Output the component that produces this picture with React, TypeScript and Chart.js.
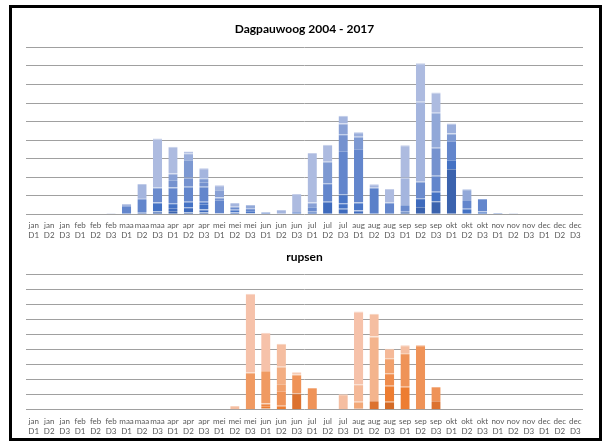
import React, { useEffect, useRef } from "react";
import { Chart, registerables } from "chart.js";

Chart.register(...registerables);

const categories: string[][] = [
  ["jan", "D1"], ["jan", "D2"], ["jan", "D3"],
  ["feb", "D1"], ["feb", "D2"], ["feb", "D3"],
  ["maa", "D1"], ["maa", "D2"], ["maa", "D3"],
  ["apr", "D1"], ["apr", "D2"], ["apr", "D3"],
  ["mei", "D1"], ["mei", "D2"], ["mei", "D3"],
  ["jun", "D1"], ["jun", "D2"], ["jun", "D3"],
  ["jul", "D1"], ["jul", "D2"], ["jul", "D3"],
  ["aug", "D1"], ["aug", "D2"], ["aug", "D3"],
  ["sep", "D1"], ["sep", "D2"], ["sep", "D3"],
  ["okt", "D1"], ["okt", "D2"], ["okt", "D3"],
  ["nov", "D1"], ["nov", "D2"], ["nov", "D3"],
  ["dec", "D1"], ["dec", "D2"], ["dec", "D3"],
];

const years = ["2004", "2005", "2006", "2007", "2008", "2009", "2010", "2011", "2012", "2013", "2014", "2015", "2016", "2017"];

// Dagpauwoog (vlinders) per jaar
const vl2004 = [0, 0, 0, 0, 0, 0, 0, 0.8, 1.5, 1.8, 1.0, 1.0, 0.5, 0, 0.6, 0, 0, 0, 0, 0, 0, 0, 0, 0, 1.4, 4.0, 7.0, 24.4, 0, 0, 0, 0, 0, 0, 0, 0];
const vl2005 = [0, 0, 0, 0, 0, 0, 0, 0, 0, 1.6, 2.8, 1.6, 0, 1.0, 0, 0, 0, 0, 1.4, 6.8, 3.0, 2.0, 0, 0, 0, 4.6, 0, 0, 0, 0, 0, 0, 0, 0, 0, 0];
const vl2006 = [0, 0, 0, 0, 0, 0, 0, 0, 4.8, 2.5, 3.0, 3.0, 0, 0, 0, 0, 0, 0, 0, 0, 2.9, 0, 0, 0, 0, 0, 5.2, 4.9, 3.0, 1.5, 0, 0, 0, 0, 0, 0];
const vl2007 = [0, 0, 0, 0, 0, 0, 0, 0, 0, 0, 0, 1.2, 0, 1.5, 1.2, 0, 0, 0, 0, 0, 4.9, 4.3, 0, 0, 0, 0, 0, 0, 0, 0, 0, 0, 0, 0, 0, 0];
const vl2008 = [0, 0, 0, 0, 0, 0, 0, 0, 0, 0, 0, 0, 0, 0, 0, 0, 0, 0, 0, 0, 0, 0, 14.3, 0, 0, 0, 0, 0, 0, 0, 0, 0, 0, 0, 0, 0];
const vl2009 = [0, 0, 0, 0, 0, 0, 4.5, 7.4, 0, 8.5, 8.1, 8.1, 7.2, 0, 1.4, 1.1, 0, 1.2, 0, 9.9, 23.3, 28.9, 0, 6.3, 0, 0, 8.6, 10.2, 4.7, 6.7, 0.7, 0, 0, 0, 0, 0];
const vl2010 = [0, 0, 0, 0, 0, 0, 0, 0, 8.1, 0, 0, 0, 0, 1.6, 0, 0, 0, 0, 2.5, 0, 0, 0, 0, 0, 3.6, 9.0, 0, 0, 0, 0, 0, 0, 0, 0, 0, 0];
const vl2011 = [0, 0, 0, 0, 0, 0, 0, 0, 0, 4.1, 4.8, 2.5, 1.3, 0, 0, 0, 0, 0, 0, 0, 9.0, 0, 0, 0, 0, 0, 15.1, 0, 0, 0, 0, 0, 0, 0, 0, 0];
const vl2012 = [0, 0, 0, 0, 0, 0, 0, 0, 0, 0, 9.6, 2.0, 0, 0, 0, 0, 0, 0, 0, 11.7, 0, 6.6, 0, 0, 0, 0, 0, 4.1, 0, 0, 0, 0, 0, 0, 0, 0];
const vl2013 = [0, 0, 0, 0, 0, 0, 0, 0, 0, 3.5, 0, 0, 4.1, 0, 0, 0, 0, 0, 2.4, 0, 5.9, 0, 0, 0, 0, 0, 0, 0, 0, 0, 0, 0, 0, 0, 0, 0];
const vl2014 = [0, 0, 0, 0, 0, 0, 0, 0, 0, 0, 0, 0, 0, 0, 1.8, 0, 0, 0, 0, 0, 0, 0, 0, 0, 0, 0, 18.8, 0, 5.8, 0, 0, 0.5, 0, 0, 0, 0];
const vl2015 = [0, 0, 0, 0, 0, 0, 0, 0.6, 0, 0, 3.6, 0, 0, 0, 0, 0, 0, 0, 0, 0, 0, 2.4, 0, 0, 0, 0, 0, 5.4, 0, 0, 0, 0, 0, 0, 0, 0];
const vl2016 = [0, 0, 0, 0, 0.3, 0.5, 1.0, 7.5, 0, 0, 1.0, 5.4, 2.5, 2.0, 0, 0, 2.3, 0, 0, 0, 4.1, 0, 1.9, 0, 14.7, 43.1, 0, 0, 0, 0, 0, 0, 0, 0, 0, 0];
const vl2017 = [0, 0, 0, 0, 0, 0, 0, 0, 26.5, 14.4, 0, 0, 0, 0, 0, 0, 0, 9.7, 26.7, 9.1, 0, 0, 0, 7.3, 17.6, 20.7, 11.0, 0, 0, 0, 0, 0, 0, 0, 0, 0];

// rupsen per jaar
const ru2004 = [0, 0, 0, 0, 0, 0, 0, 0, 0, 0, 0, 0, 0, 0, 0, 1.0, 0, 0, 0, 0, 0, 0, 0, 5.3, 0, 0, 0, 0, 0, 0, 0, 0, 0, 0, 0, 0];
const ru2005 = [0, 0, 0, 0, 0, 0, 0, 0, 0, 0, 0, 0, 0, 0, 0, 0, 0, 10.9, 0, 0, 0, 1.0, 5.8, 0, 0, 0, 5.8, 0, 0, 0, 0, 0, 0, 0, 0, 0];
const ru2006 = [0, 0, 0, 0, 0, 0, 0, 0, 0, 0, 0, 0, 0, 0, 0, 1.5, 2.7, 0, 0, 0, 0, 0, 0, 10.7, 15.3, 0, 0, 0, 0, 0, 0, 0, 0, 0, 0, 0];
const ru2007 = [0, 0, 0, 0, 0, 0, 0, 0, 0, 0, 0, 0, 0, 0, 0, 1.7, 0, 0, 0, 0, 0, 0, 0, 0, 0, 0, 0, 0, 0, 0, 0, 0, 0, 0, 0, 0];
const ru2008 = [0, 0, 0, 0, 0, 0, 0, 0, 0, 0, 0, 0, 0, 0, 0, 0, 0, 0, 0, 0, 0, 0, 0, 8.2, 0, 0, 0, 0, 0, 0, 0, 0, 0, 0, 0, 0];
const ru2009 = [0, 0, 0, 0, 0, 0, 0, 0, 0, 0, 0, 0, 0, 0, 0, 0, 9.8, 12.5, 14.5, 0, 0, 0, 0, 0, 22.3, 42.9, 9.3, 0, 0, 0, 0, 0, 0, 0, 0, 0];
const ru2010 = [0, 0, 0, 0, 0, 0, 0, 0, 0, 0, 0, 0, 0, 0, 24.7, 21.6, 0, 0, 0, 0, 0, 0, 0, 0, 0, 0, 0, 0, 0, 0, 0, 0, 0, 0, 0, 0];
const ru2011 = [0, 0, 0, 0, 0, 0, 0, 0, 0, 0, 0, 0, 0, 0, 0, 0, 4.6, 0, 0, 0, 0, 0, 0, 10.0, 0, 0, 0, 0, 0, 0, 0, 0, 0, 0, 0, 0];
const ru2012 = [0, 0, 0, 0, 0, 0, 0, 0, 0, 0, 0, 0, 0, 0, 0, 0, 0, 0, 0, 0, 0, 4.3, 0, 0, 0, 0, 0, 0, 0, 0, 0, 0, 0, 0, 0, 0];
const ru2013 = [0, 0, 0, 0, 0, 0, 0, 0, 0, 0, 0, 0, 0, 0, 0, 0, 11.4, 0, 0, 0, 0, 0, 0, 0, 0, 0, 0, 0, 0, 0, 0, 0, 0, 0, 0, 0];
const ru2014 = [0, 0, 0, 0, 0, 0, 0, 0, 0, 0, 0, 0, 0, 0, 0, 0, 0, 0, 0, 0, 0, 0, 42.9, 0, 0, 0, 0, 0, 0, 0, 0, 0, 0, 0, 0, 0];
const ru2015 = [0, 0, 0, 0, 0, 0, 0, 0, 0, 0, 0, 0, 0, 0, 0, 0, 0, 0, 0, 0, 0, 11.6, 0, 6.3, 0, 0, 0, 0, 0, 0, 0, 0, 0, 0, 0, 0];
const ru2016 = [0, 0, 0, 0, 0, 0, 0, 0, 0, 0, 0, 0, 0, 2.5, 0, 0, 15.3, 1.5, 0, 0, 10.2, 0, 15.1, 0, 5.3, 0, 0, 0, 0, 0, 0, 0, 0, 0, 0, 0];
const ru2017 = [0, 0, 0, 0, 0, 0, 0, 0, 0, 0, 0, 0, 0, 0, 52.4, 25.3, 0, 0, 0, 0, 0, 48.4, 0, 0, 0, 0, 0, 0, 0, 0, 0, 0, 0, 0, 0, 0];

const vlinderSeries = [vl2004, vl2005, vl2006, vl2007, vl2008, vl2009, vl2010, vl2011, vl2012, vl2013, vl2014, vl2015, vl2016, vl2017];
const rupsenSeries = [ru2004, ru2005, ru2006, ru2007, ru2008, ru2009, ru2010, ru2011, ru2012, ru2013, ru2014, ru2015, ru2016, ru2017];

const blueShades = ["#3b63ae", "#3f6bbd", "#4472c4", "#4a76c6", "#5a80c9", "#6386cc", "#6b8bcd", "#7592cf", "#7d99d2", "#88a0d5", "#91a8d8", "#9aaedb", "#a4b5de", "#adbbe0"];
const orangeShades = ["#d36a26", "#dc7230", "#ed7d31", "#ee8540", "#ef8c4c", "#ef9358", "#f09a62", "#f1a16d", "#f2a878", "#f3ae83", "#f4b48d", "#f5b998", "#f5bea1", "#f6c2aa"];

const FONT = "Lato, 'Open Sans', sans-serif";

function lighten(hex: string, amt: number): string {
  const n = parseInt(hex.slice(1), 16);
  const r = (n >> 16) & 255;
  const g = (n >> 8) & 255;
  const b = n & 255;
  const m = (c: number) => Math.round(c + (255 - c) * amt);
  return `rgb(${m(r)},${m(g)},${m(b)})`;
}

function makeConfig(series: number[][], shades: string[], title: string, titlePad: { top: number; bottom: number }, padTop: number, axisHeight: number, tickPad: number): any {
  return {
    type: "bar",
    data: {
      labels: categories,
      datasets: series.map((d, i) => ({
        label: years[i],
        data: d,
        backgroundColor: shades[i],
        borderColor: lighten(shades[i], 0.3),
        borderWidth: { top: 1, left: 0, right: 0, bottom: 0 },
        borderSkipped: "start",
        categoryPercentage: 0.6,
        barPercentage: 1,
      })),
    },
    options: {
      animation: false,
      responsive: false,
      maintainAspectRatio: false,
      layout: { padding: { left: 26, right: 22, top: padTop, bottom: 0 } },
      plugins: {
        legend: { display: false },
        tooltip: { enabled: false },
        title: {
          display: true,
          text: title,
          color: "#000000",
          font: { family: FONT, size: 12, weight: "bold", lineHeight: 1.2 },
          padding: titlePad,
        },
      },
      scales: {
        x: {
          stacked: true,
          grid: { display: false, drawTicks: false },
          border: { display: false },
          ticks: {
            autoSkip: false,
            maxRotation: 0,
            minRotation: 0,
            padding: tickPad,
            color: "#595959",
            font: { family: FONT, size: 8, lineHeight: 1.25 },
          },
          afterFit: (scale: any) => {
            scale.height = axisHeight;
          },
        },
        y: {
          stacked: true,
          min: 0,
          max: 90,
          ticks: { stepSize: 10, display: false },
          grid: { color: "#a0a0a0", lineWidth: 1, drawTicks: false },
          border: { display: false },
          afterFit: (scale: any) => {
            scale.width = 0;
          },
        },
      },
    },
  };
}

export default function App() {
  const topRef = useRef<HTMLCanvasElement>(null);
  const botRef = useRef<HTMLCanvasElement>(null);

  useEffect(() => {
    const c1 = new Chart(topRef.current!, makeConfig(vlinderSeries, blueShades, "Dagpauwoog 2004 - 2017", { top: 12, bottom: 11 }, 10, 30.7, 6.4));
    const c2 = new Chart(botRef.current!, makeConfig(rupsenSeries, orangeShades, "rupsen", { top: 4.8, bottom: 10.1 }, 0, 35.3, 6.3));
    return () => {
      c1.destroy();
      c2.destroy();
    };
  }, []);

  return (
    <div>
      <div style={{ position: "fixed", left: 9, top: 5, width: 587, height: 430, border: "3px solid #000", background: "#fff" }} />
      <canvas ref={topRef} width={605} height={245} style={{ position: "fixed", left: 0, top: 0, width: 605, height: 245 }} />
      <canvas ref={botRef} width={605} height={200} style={{ position: "fixed", left: 0, top: 245, width: 605, height: 200 }} />
    </div>
  );
}
